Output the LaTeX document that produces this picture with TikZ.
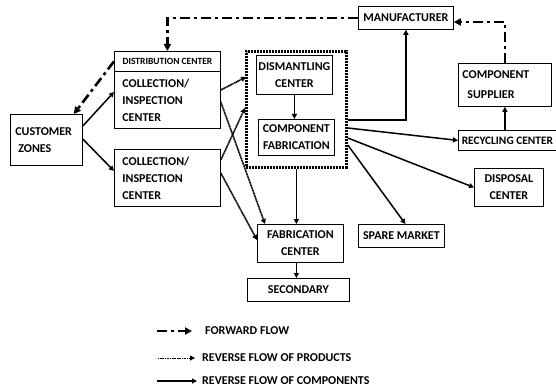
\documentclass[tikz,border=0pt]{standalone}
\usepackage{fontspec}
\setmainfont{Carlito}
\usetikzlibrary{arrows.meta,calc}
\begin{document}
\begin{tikzpicture}[x=1pt,y=-1pt,
  blk/.style={draw, line width=.8pt, anchor=north west, inner sep=0pt, align=center, font=\bfseries\fontsize{12}{17}\selectfont},
  fwd/.style={line width=2.6pt, dash pattern=on 10pt off 4pt on 3pt off 4pt, -{Triangle[length=7pt,width=7pt]}},
  rprod/.style={line width=1.6pt, dash pattern=on 1.2pt off .5pt, -{Triangle[length=5pt,width=5pt]}},
  rcomp/.style={line width=1.5pt, -{Triangle[length=5pt,width=5pt]}},
  lgd/.style={anchor=west, inner sep=0pt, font=\bfseries\fontsize{12}{14}\selectfont}]
\useasboundingbox (0,0) rectangle (556,390);
% boxes
\node[blk, minimum width=72pt, minimum height=51pt, text width=62pt, align=left] (cz) at (10,114) {CUSTOMER\\\hspace*{3pt}ZONES};
\node[blk, minimum width=106pt, minimum height=20pt, font=\bfseries\fontsize{9.5}{11}\selectfont] (dc) at (114,51) {DISTRIBUTION CENTER};
\node[blk, minimum width=106pt, minimum height=57pt, text width=90pt, align=left] (col1) at (114,71) {COLLECTION/\\INSPECTION\\CENTER};
\node[blk, minimum width=106pt, minimum height=57pt, text width=90pt, align=left] (col2) at (114,149) {COLLECTION/\\INSPECTION\\CENTER};
\node[draw, line width=2.8pt, dash pattern=on 2pt off 1pt, anchor=north west, inner sep=0pt, minimum width=100pt, minimum height=116pt] (frm) at (245,50) {};
\node[blk, minimum width=76pt, minimum height=39pt] (dis) at (256,55) {DISMANTLING\\CENTER};
\node[blk, minimum width=76pt, minimum height=36pt] (cf) at (258,119) {COMPONENT\\FABRICATION};
\node[blk, minimum width=95pt, minimum height=23pt] (man) at (358,6) {MANUFACTURER};
\node[blk, minimum width=93pt, minimum height=43pt, text width=85pt, align=left] (cs) at (458,63) {COMPONENT\\[3pt]\hspace*{5pt}SUPPLIER};
\node[blk, minimum width=98pt, minimum height=20pt, font=\bfseries\fontsize{11.4}{13}\selectfont] (rc) at (458,130) {RECYCLING CENTER};
\node[blk, minimum width=69pt, minimum height=38pt] (dp) at (474,168) {DISPOSAL\\CENTER};
\node[blk, minimum width=86pt, minimum height=38pt] (fab) at (257,224) {FABRICATION\\CENTER};
\node[blk, minimum width=86pt, minimum height=23pt] (sm) at (358,224) {SPARE MARKET};
\node[blk, minimum width=102pt, minimum height=23pt] (sec) at (247,278) {SECONDARY};
% forward flow
\draw[fwd] (man.west) -| (dc.north);
\draw[fwd] (cs.north) |- ($(man.north east)+(0,16)$);
\draw[fwd] (dc.west) -- ($(cz.north east)+(-9,0)$);
% reverse flow of products
\draw[rprod] ($(col1.north east)+(0,19)$) -- ($(frm.north west)+(1,27)$);
\draw[rprod] ($(col2.north east)+(0,11)$) -- ($(frm.north west)+(0,58)$);
\draw[rprod] ($(col1.north east)+(0,31)$) -- ($(fab.north west)+(8,0)$);
\draw[rprod] ($(col2.north east)+(0,24)$) -- ($(fab.north west)+(0,16)$);
% reverse flow of components
\draw[rcomp] ($(cz.north east)+(0,12)$) -- ($(col1.north west)+(0,21)$);
\draw[rcomp] ($(cz.north east)+(0,25)$) -- ($(col2.north west)+(0,22)$);
\draw[rcomp] (dis.south) -- (dis.south |- cf.north);
\draw[rcomp] (frm.south) -- (frm.south |- fab.north);
\draw[rcomp] ($(frm.north east)+(0,70)$) -| (man.south);
\draw[rcomp] ($(frm.north east)+(0,78)$) -- (rc.west);
\draw[rcomp] ($(frm.north east)+(0,88)$) -- (dp.west);
\draw[rcomp] ($(frm.north east)+(0,95)$) -- ($(sm.north)+(4,0)$);
\draw[rcomp] (cs.south |- rc.north) -- (cs.south);
\draw[rcomp] (frm.south |- fab.south) -- (frm.south |- sec.north);
% legend
\coordinate (f0) at (157,331); \coordinate (f1) at (192,331);
\coordinate (p0) at (158,358); \coordinate (p1) at (195,358);
\coordinate (c0) at (157,381); \coordinate (c1) at (197,381);
\node[lgd] (lf) at (205,331) {FORWARD FLOW};
\node[lgd] (lp) at (202,358) {REVERSE FLOW OF PRODUCTS};
\node[lgd] (lc) at (202,381) {REVERSE FLOW OF COMPONENTS};
\draw[fwd] (f0) -- (f1);
\draw[rprod, line width=1pt] (p0) -- (p1);
\draw[rcomp] (c0) -- (c1);
\end{tikzpicture}
\end{document}
